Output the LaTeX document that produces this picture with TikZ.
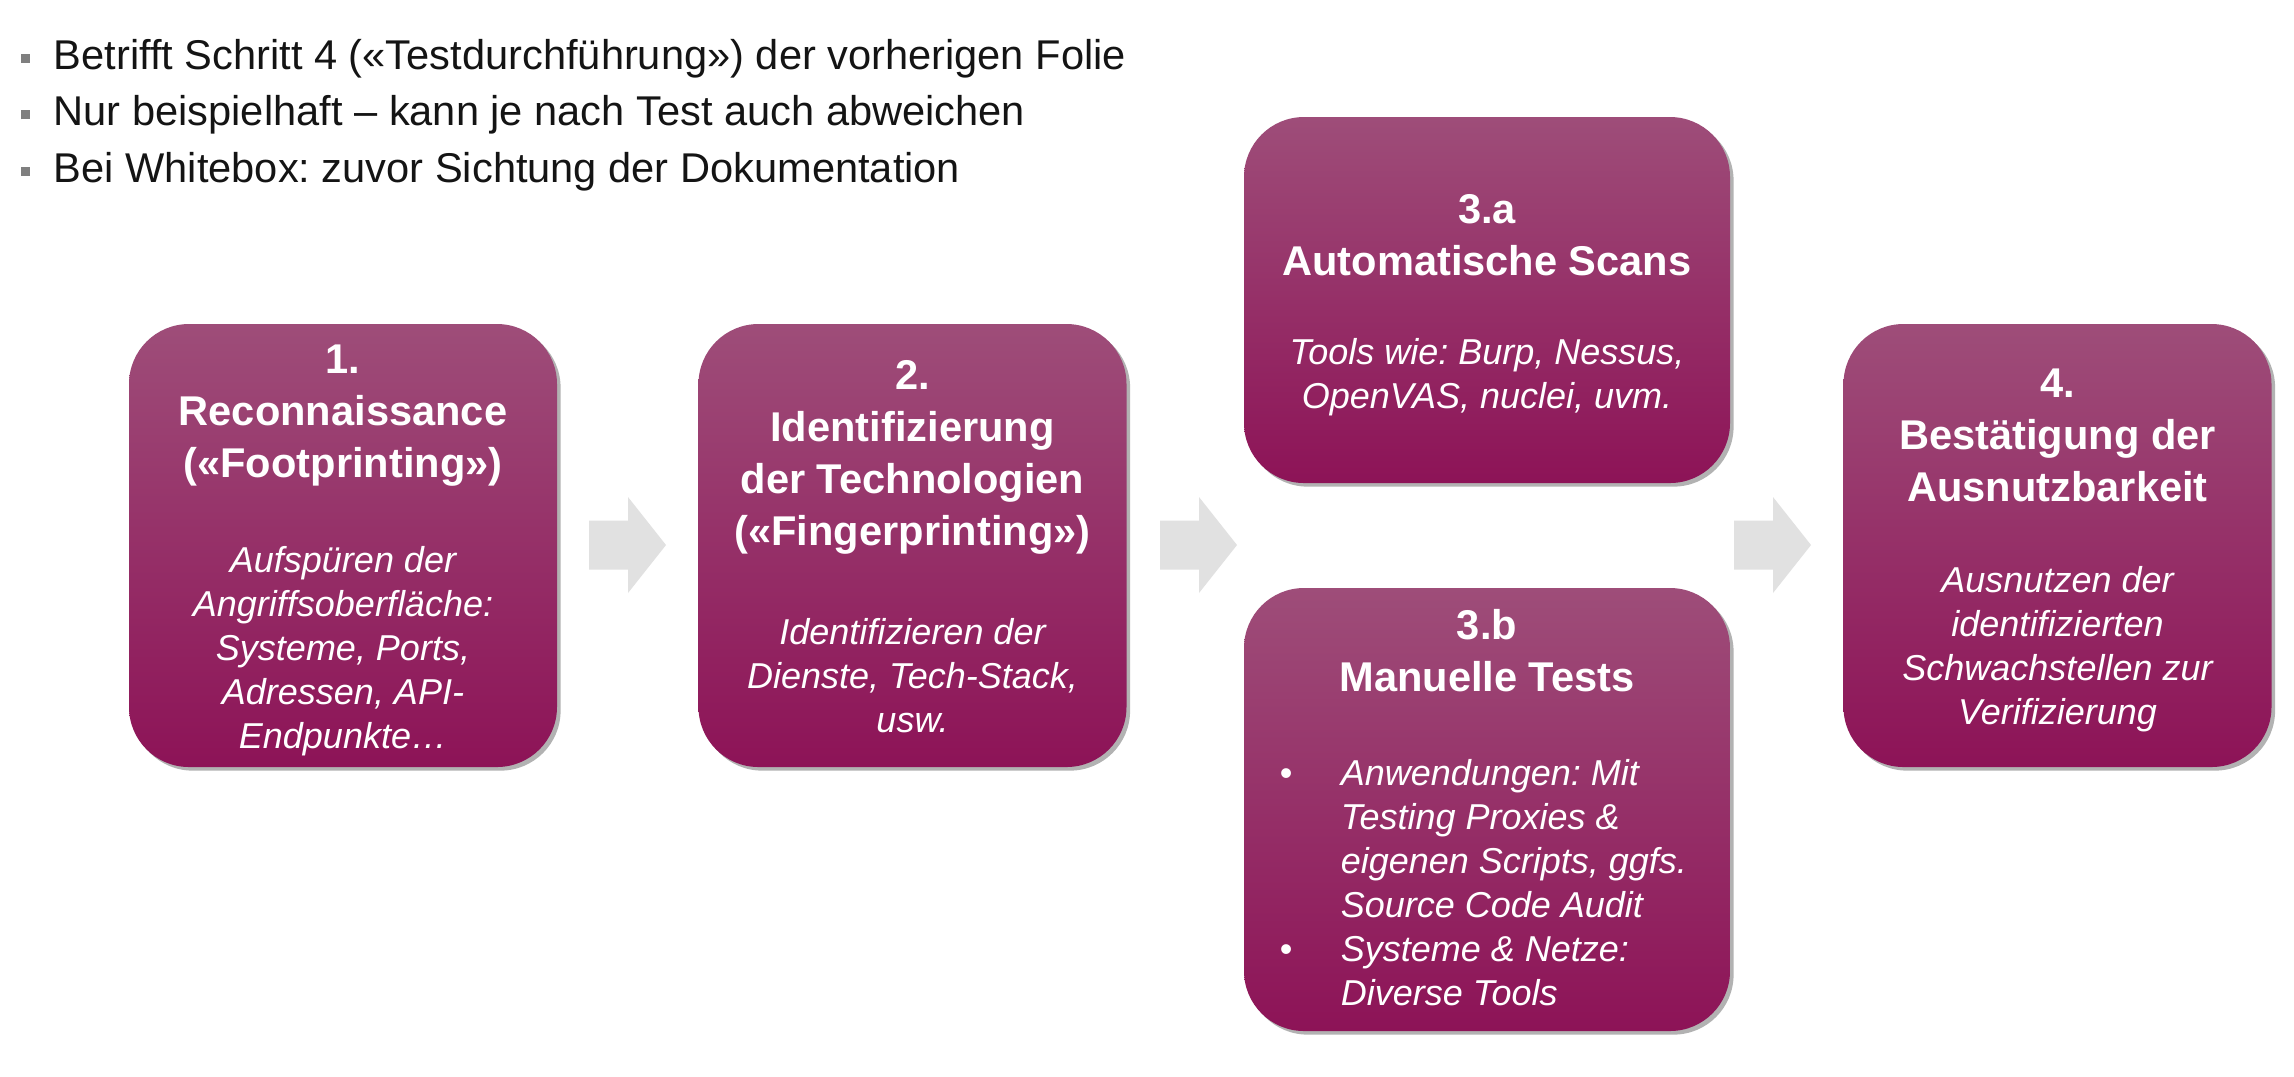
\documentclass[tikz,border=0pt]{standalone}
\usepackage{fontspec}
\setmainfont{Liberation Sans}
\usetikzlibrary{shadows}

\definecolor{boxtop}{HTML}{9E4D79}
\definecolor{boxmid}{HTML}{981C61}
\definecolor{boxbot}{HTML}{8D1357}
\definecolor{arrowgrey}{HTML}{E1E1E1}
\definecolor{bulletgrey}{HTML}{7F7F7F}
\definecolor{hdrtext}{HTML}{141414}

% small grey square used as bullet in the header list
\newcommand\hdrbullet{\raisebox{1.6pt}{\color{bulletgrey}\rule{2.25pt}{2.25pt}}}

\begin{document}
\frenchspacing
\begin{tikzpicture}[x=0.25pt,y=-0.25pt,
  stepbox/.style={rounded corners=15pt, top color=boxtop, middle color=boxmid,
    bottom color=boxbot, draw=none, inner sep=0pt,
    drop shadow={shadow xshift=0.9pt, shadow yshift=-0.9pt, opacity=0.3, fill=black}},
  boxtitle/.style={text=white, align=center, inner sep=0pt,
    font=\bfseries\fontsize{10.4}{13}\selectfont},
  boxbody/.style={text=white, align=center, inner sep=0pt,
    font=\itshape\fontsize{9}{11}\selectfont},
  hdr/.style={text=hdrtext, inner sep=0pt, font=\fontsize{10.4}{14.1}\selectfont},
  pics/flowarrow/.style={code={
    \fill[arrowgrey] (0,-24.5) -- (39,-24.5) -- (39,-48) -- (77,0)
      -- (39,48) -- (39,24.5) -- (0,24.5) -- cycle;}}
]
\useasboundingbox (0,0) rectangle (2294,1076);
\fill[white] (0,0) rectangle (2294,1076);

% header bullet list
\node[hdr, anchor=west] (hdr) at (20,114.5) {%
  \begin{tabular}{@{}p{8.25pt}@{}l@{}}
  \hdrbullet & Betrifft Schritt 4 («Testdurchführung») der vorherigen Folie\\
  \hdrbullet & Nur beispielhaft – kann je nach Test auch abweichen\\
  \hdrbullet & Bei Whitebox: zuvor Sichtung der Dokumentation
  \end{tabular}};

% process boxes
\node[stepbox, minimum width=107pt, minimum height=110.75pt] (s1) at (343,545.5) {};
\node[stepbox, minimum width=107pt, minimum height=110.75pt] (s2) at (912.5,545.5) {};
\node[stepbox, minimum width=121.5pt, minimum height=91.5pt] (s3a) at (1487,300) {};
\node[stepbox, minimum width=121.5pt, minimum height=110.75pt] (s3b) at (1487,809.5) {};
\node[stepbox, minimum width=107pt, minimum height=110.75pt] (s4) at (2057.5,545.5) {};

% block arrows between the stages
\pic (a1) at (589,545) {flowarrow};
\pic (a2) at (1160,545) {flowarrow};
\pic (a3) at (1734,545) {flowarrow};

% box 1
\node[boxtitle] (t1) at (343,416) {1.\\Reconnaissance\\(«Footprinting»)};
\node[boxbody] (b1) at (343,651) {Aufspüren der\\Angriffsoberfläche:\\Systeme, Ports,\\Adressen, API-\\Endpunkte…};

% box 2
\node[boxtitle] (t2) at (912.5,457) {2.\\Identifizierung\\der Technologien\\(«Fingerprinting»)};
\node[boxbody] (b2) at (912.5,676) {Identifizieren der\\Dienste, Tech-Stack,\\usw.};

% box 3a
\node[boxtitle] (t3a) at (1487,235) {3.a\\Automatische Scans};
\node[boxbody] (b3a) at (1487,377) {Tools wie: Burp, Nessus,\\OpenVAS, nuclei, uvm.};

% box 3b
\node[boxtitle] (t3b) at (1487,651) {3.b\\Manuelle Tests};
\node[boxbody, align=left, anchor=west] (b3b) at (1279,887) {%
  \begin{tabular}{@{}p{15.25pt}@{}l@{}}
  {\upshape\textbullet} & Anwendungen: Mit\\
   & Testing Proxies \&\\
   & eigenen Scripts, ggfs.\\
   & Source Code Audit\\
  {\upshape\textbullet} & Systeme \& Netze:\\
   & Diverse Tools
  \end{tabular}};

% box 4
\node[boxtitle] (t4) at (2057.5,435) {4.\\Bestätigung der\\Ausnutzbarkeit};
\node[boxbody] (b4) at (2057.5,649) {Ausnutzen der\\identifizierten\\Schwachstellen zur\\Verifizierung};
\end{tikzpicture}
\end{document}
